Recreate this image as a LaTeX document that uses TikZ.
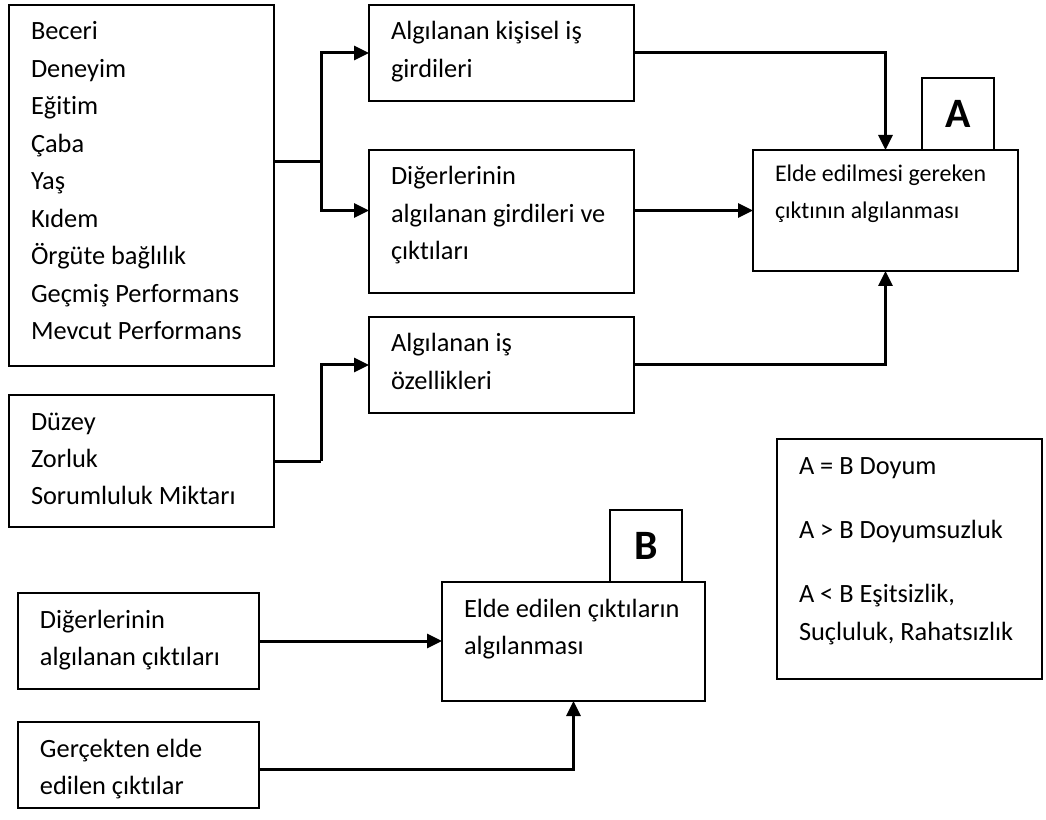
\documentclass[tikz,border=0pt]{standalone}
\usepackage{fontspec}
\setmainfont{Carlito}[Ligatures={NoCommon}]
\usetikzlibrary{positioning, arrows.meta}

\begin{document}
\begin{tikzpicture}[
    kutu/.style={draw, line width=0.035cm, align=flush left, anchor=north west, inner xsep=0.44cm, inner ysep=0pt, outer sep=0pt, text width=4.42cm, text height=0.70cm, font=\fontsize{15pt}{21.3pt}\selectfont},
    etiket/.style={draw, line width=0.035cm, minimum size=1.44cm, inner sep=0pt, outer sep=0pt, font=\fontsize{23.8pt}{28pt}\selectfont\bfseries},
    ok/.style={line width=0.06cm},
    okb/.style={ok, -{Triangle[length=0.3cm, width=0.28cm]}}]
    \useasboundingbox (0,0) rectangle (20.92,-16.4);
	\node[kutu, text depth=6.52cm] (beceri) at (0.18,-0.10) {Beceri\\Deneyim\\Eğitim\\Çaba\\Yaş\\Kıdem\\Örgüte bağlılık\\Geçmiş Performans\\Mevcut Performans};
    \node[kutu, right=1.9cm of beceri.north east, anchor=north west, text depth=1.22cm] (kisisel) {Algılanan kişisel iş\\girdileri};
    \node[kutu, below=0.98cm of kisisel.south west, anchor=north west, text depth=2.16cm] (digergirdi) {Diğerlerinin\\algılanan girdileri ve\\çıktıları};
    \node[kutu, below=0.48cm of digergirdi.south west, anchor=north west, text depth=1.22cm] (isozellik) {Algılanan iş\\özellikleri};
    \node[kutu, below=0.58cm of beceri.south west, anchor=north west, text depth=1.94cm] (duzey) {Düzey\\Zorluk\\Sorumluluk Miktarı};
    \node[kutu, right=2.38cm of digergirdi.north east, anchor=north west, text height=0.63cm, text depth=1.79cm, font=\fontsize{13.6pt}{21pt}\selectfont] (gereken) {Elde edilmesi gereken\\çıktının algılanması};
    \node[etiket, above=0pt of gereken.north east, xshift=-0.48cm, anchor=south east] (etiketA) {A};
    \node[kutu, below=3.36cm of gereken.south west, xshift=0.48cm, anchor=north west, text depth=4.10cm] (sonuc) {A = B Doyum\\[0.54cm]A > B Doyumsuzluk\\[0.54cm]A < B Eşitsizlik,\\Suçluluk, Rahatsızlık};
    \node[kutu, below=1.32cm of duzey.south west, xshift=0.18cm, anchor=north west, text width=3.94cm, text depth=1.22cm] (digcikti) {Diğerlerinin\\algılanan çıktıları};
    \node[kutu, below=0.66cm of digcikti.south west, anchor=north west, text width=3.94cm, text depth=1.02cm] (gercek) {Gerçekten elde\\edilen çıktılar};
    \node[kutu, right=3.66cm of digcikti.north east, yshift=0.22cm, anchor=north west, text width=4.38cm, text depth=1.68cm] (eldeedilen) {Elde edilen çıktıların\\algılanması};
    \node[etiket, above=0pt of eldeedilen.north east, xshift=-0.46cm, anchor=south east] (etiketB) {B};
    \draw[ok] ([yshift=0.47cm]beceri.east) -- ++(0.94cm,0) coordinate (dal1);
    \draw[okb] (dal1) |- (kisisel.west);
    \draw[okb] (dal1) |- (digergirdi.west |- gereken.west);
    \draw[ok] (duzey.east) -- ++(0.94cm,0) coordinate (dal2);
    \draw[okb] (dal2) |- (isozellik.west);
    \draw[okb] (kisisel.east) -| (gereken.north);
    \draw[okb] (digergirdi.east |- gereken.west) -- (gereken.west);
    \draw[okb] (isozellik.east) -| (gereken.south);
    \draw[okb] (digcikti.east) -- (digcikti.east -| eldeedilen.west);
    \draw[okb] ([yshift=-0.08cm]gercek.east) -| (eldeedilen.south);
\end{tikzpicture}
\end{document}
